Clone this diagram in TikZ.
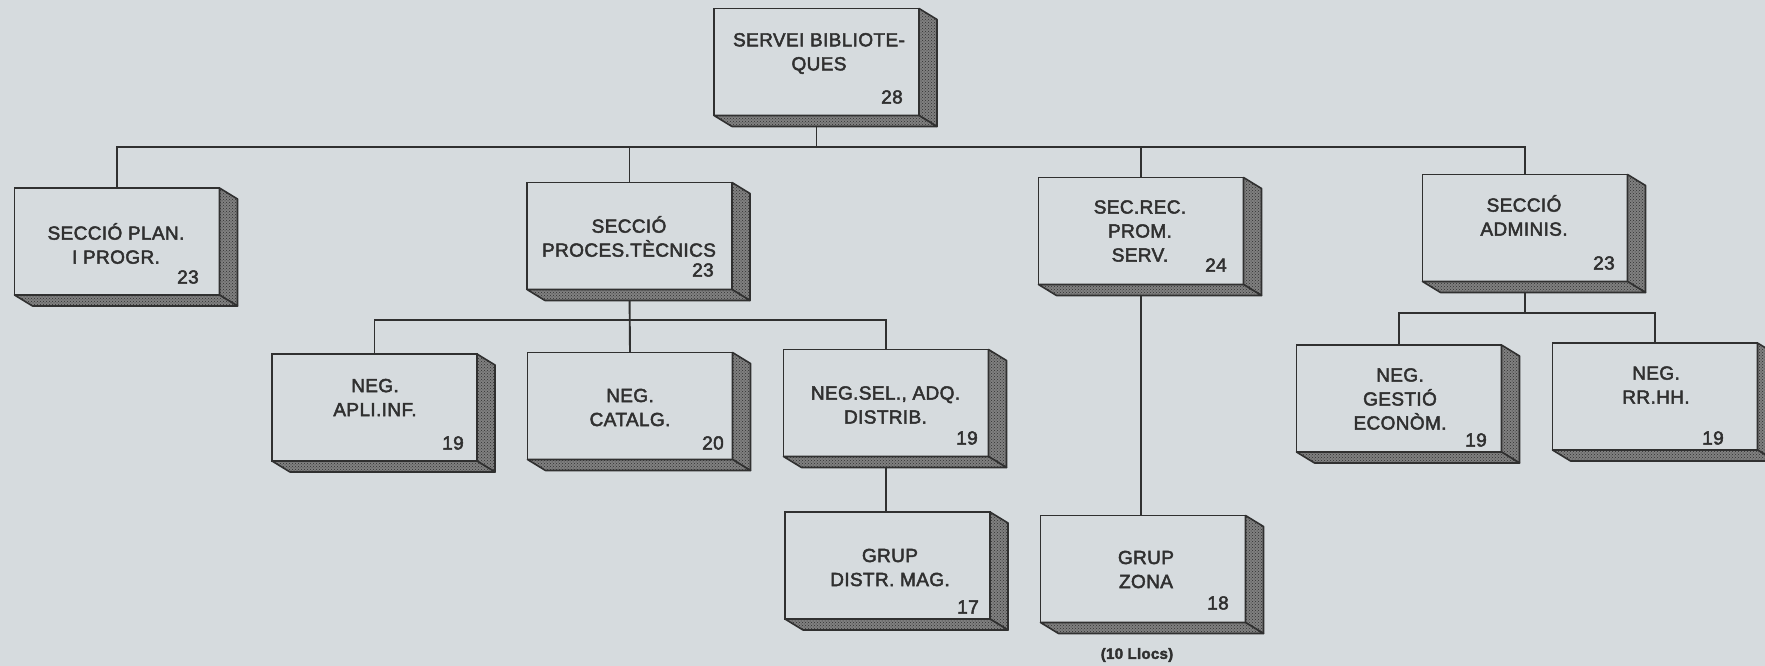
\documentclass[tikz,border=0pt]{standalone}
\usepackage{fontspec}
\setmainfont[LetterSpace=2,FakeBold=2.5]{Liberation Sans}
\usetikzlibrary{patterns,calc}
\definecolor{bgc}{HTML}{D6DBDE}
\definecolor{ink}{HTML}{303030}
\definecolor{sidec}{HTML}{808080}
\pgfdeclarelayer{bglayer}
\pgfdeclarelayer{lines}
\pgfsetlayers{bglayer,lines,main}
\tikzset{
  obox/.style={draw=ink, line width=1.9pt, fill=bgc, minimum width=205pt,
    minimum height=107pt, inner sep=0pt, outer sep=0pt},
  sideface/.style={draw=ink, line width=1.6pt, line join=round,
    preaction={fill=sidec}, pattern=crosshatch dots, pattern color=ink},
  lab/.style={text=ink, font=\fontsize{19}{24}\selectfont, align=center, inner sep=0pt},
  numlab/.style={text=ink, font=\fontsize{19}{24}\selectfont, inner sep=0pt},
  conn/.style={draw=ink, line width=1.9pt},
}
\newcommand\orgbox[6]{%
  \node[obox] (#1) at (#2) {};
  \draw[sideface] (#1.north east) -- ++(18,11) -- ($(#1.south east)+(18,11)$) -- (#1.south east) -- cycle;
  \draw[sideface] (#1.south west) -- ($(#1.south west)+(18,11)$) -- ($(#1.south east)+(18,11)$) -- (#1.south east) -- cycle;
  \node[lab] (#1-t) at (#4) {#3};
  \node[numlab] (#1-n) at (#6) {#5};
}
\begin{document}
\begin{tikzpicture}[x=1pt,y=-1pt]
\useasboundingbox (0,0) rectangle (1765,666);
\clip (0,0) rectangle (1765,666);
\begin{pgfonlayer}{bglayer}
  \fill[bgc] (0,0) rectangle (1765,666);
\end{pgfonlayer}

\orgbox{servei}{816.5,62}{SERVEI BIBLIOTE-\\QUES}{819,53.5}{28}{892,97}
\orgbox{plan}{117,241.5}{SECCIÓ PLAN.\\I PROGR.}{116,243.5}{23}{188,277}
\orgbox{proces}{629.5,236}{SECCIÓ\\PROCES.TÈCNICS}{629,236.5}{23}{703,270}
\orgbox{secrec}{1141,231}{SEC.REC.\\PROM.\\SERV.}{1140,231}{24}{1216,265}
\orgbox{admin}{1525,228}{SECCIÓ\\ADMINIS.}{1524,215.5}{23}{1604,263}
\orgbox{apli}{374.5,407.5}{NEG.\\APLI.INF.}{375,397.5}{19}{453,443}
\orgbox{catalg}{630,406}{NEG.\\CATALG.}{630,407.5}{20}{713,443}
\orgbox{sel}{886,403}{NEG.SEL., ADQ.\\DISTRIB.}{885.5,405}{19}{967,438}
\orgbox{gestio}{1399,398.5}{NEG.\\GESTIÓ\\ECONÒM.}{1400,399}{19}{1476,440}
\orgbox{rrhh}{1655,396.5}{NEG.\\RR.HH.}{1656,385}{19}{1713,438}
\orgbox{distr}{887.5,565.5}{GRUP\\DISTR. MAG.}{890,567.5}{17}{968,607}
\orgbox{zona}{1143,569}{GRUP\\ZONA}{1146,569.5}{18}{1218,603}
\node[text=ink, font=\bfseries\fontsize{15}{18}\selectfont, inner sep=0pt] (llocs) at (1137,655) {(10 Llocs)};

\coordinate (busA) at (0,147);
\coordinate (busB) at (0,320);
\coordinate (busC) at (0,313);
\begin{pgfonlayer}{lines}
  \draw[conn] (servei.south) -- (servei.south |- busA);
  \draw[conn] (plan.north) |- (busA -| admin.north) -- (admin.north);
  \draw[conn] (proces.north) -- (proces.north |- busA);
  \draw[conn] (secrec.north) -- (secrec.north |- busA);
  \draw[conn] (proces.south) -- (catalg.north);
  \draw[conn] (apli.north) |- (busB -| sel.north) -- (sel.north);
  \draw[conn] (sel.south) -- (sel.south |- distr.north);
  \draw[conn] (secrec.south) -- (secrec.south |- zona.north);
  \draw[conn] (admin.south) -- (admin.south |- busC);
  \draw[conn] (gestio.north) |- (busC -| rrhh.north) -- (rrhh.north);
\end{pgfonlayer}
\end{tikzpicture}
\end{document}
